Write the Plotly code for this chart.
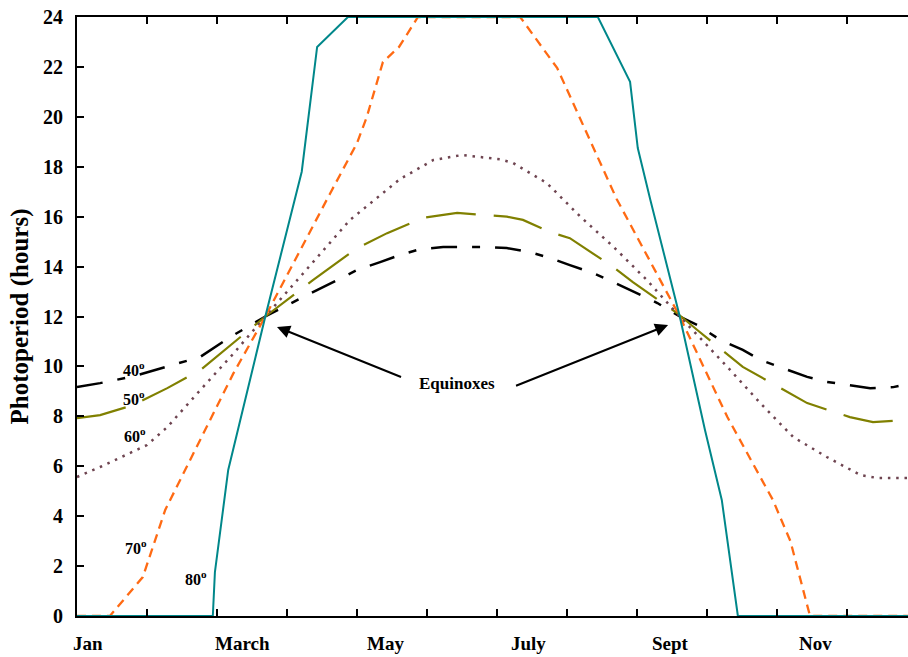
import plotly.graph_objects as go

# months since Jan 1 (fractional) and photoperiod (hours)
lat40_x = [0, 0.33, 0.8, 1.29, 1.76, 2.19, 2.69, 3.09, 3.43, 3.71, 4.0, 4.33, 4.61, 4.9, 5.23, 5.86,
           6.14, 6.47, 6.76, 7.04, 7.37, 7.66, 8.0, 8.29, 8.61, 8.86, 9.19, 9.51, 9.76, 10.09, 10.43,
           10.71, 11.04, 11.33, 11.66, 11.87]
lat40_y = [9.17, 9.33, 9.6, 10.0, 10.38, 11.18, 12.0, 12.58, 13.06, 13.46, 13.86, 14.18, 14.46, 14.7,
           14.78, 14.78, 14.74, 14.58, 14.34, 14.06, 13.74, 13.38, 12.94, 12.54, 12.0, 11.66, 11.06,
           10.66, 10.26, 9.94, 9.58, 9.38, 9.25, 9.13, 9.17, 9.3]

lat50_x = [0, 0.33, 0.8, 1.29, 1.76, 2.19, 2.69, 3.37, 4.0, 4.43, 4.94, 5.43, 5.86, 6.14, 6.37, 6.76,
           7.04, 7.66, 7.94, 8.57, 8.86, 9.51, 10.43, 11.04, 11.37, 11.87]
lat50_y = [7.93, 8.05, 8.45, 9.13, 9.85, 10.86, 12.0, 13.46, 14.74, 15.34, 15.95, 16.15, 16.07, 16.0,
           15.87, 15.38, 15.14, 13.98, 13.38, 12.14, 11.46, 9.98, 8.53, 7.97, 7.77, 7.85]

lat60_x = [0, 0.33, 1.0, 1.29, 1.76, 2.23, 2.69, 3.19, 3.9, 4.61, 5.09, 5.5, 6.04, 6.23, 6.71, 7.19,
           7.66, 8.14, 8.61, 9.29, 9.76, 10.23, 10.71, 11.19, 11.43, 11.87]
lat60_y = [5.57, 5.97, 6.85, 7.57, 9.05, 10.5, 12.0, 13.6, 15.87, 17.5, 18.27, 18.47, 18.3, 18.15,
           17.35, 16.0, 14.8, 13.46, 12.0, 9.98, 8.53, 7.17, 6.37, 5.65, 5.53, 5.53]

lat70_x = [0, 0.47, 0.94, 1.26, 2.23, 2.69, 3.61, 4.0, 4.14, 4.37, 4.6, 4.87, 6.33, 6.86, 7.71, 8.61,
           9.29, 9.94, 10.19, 10.47, 11.87]
lat70_y = [0, 0, 1.56, 4.25, 9.7, 12.0, 16.9, 18.95, 20.0, 22.2, 22.8, 24, 24, 21.95, 16.7, 12.0,
           7.97, 4.65, 3.0, 0, 0]

lat80_x = [0, 1.94, 1.97, 2.16, 2.54, 2.69, 3.21, 3.43, 3.87, 7.44, 7.9, 8.01, 8.19, 8.61, 8.97, 9.21,
           9.44, 11.87]
lat80_y = [0, 0, 1.76, 5.85, 10.26, 12.0, 17.8, 22.8, 24, 24, 21.4, 18.75, 16.67, 12.0, 7.45, 4.65,
           0, 0]

month_ticks = list(range(12))
month_labels = ["Jan", "March", "May", "July", "Sept", "Nov"]
month_label_pos = [0.157, 2.357, 4.4, 6.443, 8.471, 10.543]
y_ticks = list(range(0, 25, 2))

lat_labels = ["40<sup>o</sup>", "50<sup>o</sup>", "60<sup>o</sup>", "70<sup>o</sup>", "80<sup>o</sup>"]
lat_label_x = [0.81, 0.81, 0.83, 0.84, 1.7]
lat_label_y = [9.9, 8.73, 7.25, 2.76, 1.52]

FONT = "Liberation Serif"

fig = go.Figure()
fig.add_trace(go.Scatter(x=lat40_x, y=lat40_y, mode="lines",
                         line=dict(color="black", width=2.5, dash="26px,15px,8px,15px")))
fig.add_trace(go.Scatter(x=lat50_x, y=lat50_y, mode="lines",
                         line=dict(color="#808000", width=2.2, dash="50px,18px")))
fig.add_trace(go.Scatter(x=lat60_x, y=lat60_y, mode="lines",
                         line=dict(color="#6e4450", width=2.5, dash="2.5px,5.8px")))
fig.add_trace(go.Scatter(x=lat70_x, y=lat70_y, mode="lines",
                         line=dict(color="#ff6a13", width=2.3, dash="9px,6px")))
fig.add_trace(go.Scatter(x=lat80_x, y=lat80_y, mode="lines",
                         line=dict(color="#00878a", width=2.0)))

annotations = []
for txt, xx in zip(month_labels, month_label_pos):
    annotations.append(dict(x=xx, y=0, xref="x", yref="paper", text=txt, showarrow=False,
                            yanchor="top", yshift=-15,
                            font=dict(family=FONT, size=19, color="black", weight="bold")))
for txt, xx, yy in zip(lat_labels, lat_label_x, lat_label_y):
    annotations.append(dict(x=xx, y=yy, xref="x", yref="y", text=txt, showarrow=False,
                            font=dict(family=FONT, size=16, color="black", weight="bold")))
annotations.append(dict(x=5.43, y=9.3, xref="x", yref="y", text="Equinoxes", showarrow=False,
                        font=dict(family=FONT, size=17, color="black", weight="bold")))
annotations.append(dict(x=2.857, y=11.58, ax=4.65, ay=9.55, xref="x", yref="y", axref="x", ayref="y",
                        text="", showarrow=True, arrowhead=2, arrowsize=1.3, arrowwidth=2,
                        arrowcolor="black"))
annotations.append(dict(x=8.443, y=11.66, ax=6.25, ay=9.2, xref="x", yref="y", axref="x", ayref="y",
                        text="", showarrow=True, arrowhead=2, arrowsize=1.3, arrowwidth=2,
                        arrowcolor="black"))

fig.update_layout(
    width=908, height=657,
    margin=dict(l=77, r=0, t=17, b=41),
    paper_bgcolor="white", plot_bgcolor="white",
    showlegend=False,
    annotations=annotations,
    xaxis=dict(range=[0, 11.87], tickvals=month_ticks, ticktext=[""] * len(month_ticks),
               ticks="inside", ticklen=7, tickwidth=1.5, tickcolor="black",
               showline=True, linecolor="black", linewidth=2, mirror="ticks",
               showgrid=False, zeroline=False, layer="above traces", automargin=False),
    yaxis=dict(range=[0, 24], tickvals=y_ticks, ticks="inside", ticklen=7, tickwidth=1.5,
               tickcolor="black", showline=True, linecolor="black", linewidth=2,
               showgrid=False, zeroline=False, ticklabelstandoff=8, layer="above traces",
               automargin=False, ticklabeloverflow="allow",
               tickfont=dict(family=FONT, size=20, color="black", weight="bold"),
               title=dict(text="Photoperiod (hours)", standoff=7,
                          font=dict(family=FONT, size=25, color="black", weight="bold"))),
)

# remove the default page margin so the figure fills the 908x657 window exactly
fig.write_html("out.html", config={"displayModeBar": False},
               post_script="document.body.style.margin='0';document.body.style.overflow='hidden';")
